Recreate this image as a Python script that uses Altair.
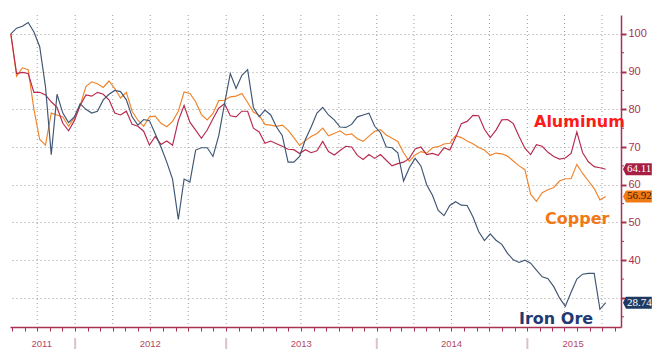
import altair as alt
import pandas as pd

START = "2011-07-29"   # first observation, then one point every two weeks

iron_ore = [100, 101.5, 102, 103, 100.5, 96.6, 86, 68, 84, 79,
            76.5, 78, 81.5, 80, 79, 79.5, 82.5, 84, 85, 84.7,
            82.5, 78, 75.8, 77.3, 77, 73.5, 70, 66, 61.5, 50.8,
            61.5, 60.7, 69.2, 69.8, 69.8, 67.5, 73, 81.5, 89.5, 85.5,
            89, 90.5, 80.5, 78, 79.8, 78.5, 75.3, 73, 66, 66,
            67.5, 72, 75.3, 79, 80.5, 78.5, 77.2, 75.3, 75.2, 76,
            78, 78.5, 79, 75.5, 73.8, 70, 69.8, 68.5, 61, 64.5,
            67, 65, 60, 57.2, 53.2, 51.8, 54.5, 55.5, 54.6, 54.5,
            51.5, 47.6, 45.2, 47, 45.3, 44.2, 41.8, 40.1, 39.4, 40,
            39.2, 37.4, 35.6, 35.1, 33, 30, 27.8, 31.5, 35, 36.3,
            36.5, 36.5, 27, 28.74]

aluminum = [100, 89.5, 89.8, 89.5, 84.5, 84.5, 83.8, 82, 80.5, 76.3,
            74.3, 77, 81, 83.8, 83.5, 84.5, 84, 82.5, 79, 78.5,
            79.5, 76, 75.5, 74.2, 70.5, 72.8, 70.7, 71.6, 70.5, 77,
            81, 76.6, 74.5, 72.3, 74.5, 77.5, 80.3, 81.5, 78.3, 78,
            79.5, 79.5, 75, 74, 71, 71.6, 70.9, 70.2, 69.4, 69.3,
            68.3, 69.3, 68.5, 69, 71.5, 68.8, 67.9, 69.1, 70.2, 70,
            67.8, 66.7, 68, 67, 68, 66.5, 65, 65.6, 66, 67,
            69.5, 70, 68, 68.3, 67.8, 69.8, 69.2, 72.5, 76.2, 76.8,
            78.4, 78.3, 74.7, 72.5, 74.5, 77.2, 77.3, 76.2, 72.8, 69.7,
            68, 70.6, 70.2, 68.6, 67.5, 66.8, 67.1, 68.3, 74, 68.5,
            66.1, 64.8, 64.5, 64.11]

copper = [100, 88.8, 91, 90.5, 80, 72, 70.5, 79, 78.5, 78,
          75.5, 77.8, 81, 86, 87.3, 86.8, 85.8, 87.5, 85.5, 83,
          84.5, 79.5, 77.1, 75.5, 78, 78.2, 76.3, 75.4, 76.8, 79.5,
          84.6, 84.2, 82, 78.6, 77.2, 78.9, 82.3, 82.4, 83.3, 83.5,
          84.2, 81.8, 79.3, 78.4, 76, 75.8, 75.5, 75.8, 74.5, 72.5,
          70.4, 71.7, 72.8, 73.6, 75, 73, 73.6, 74.3, 73.2, 73.5,
          72.2, 71.5, 72.9, 74.2, 74.6, 73.2, 72.3, 71.5, 68.5, 66.2,
          67.9, 68.8, 68.4, 69.8, 70.1, 70.8, 71, 73, 72.5, 71.6,
          70.9, 69.9, 69.2, 67.8, 68.4, 68.2, 67.6, 66.3, 65, 64,
          57.5, 55.6, 57.9, 58.7, 59.3, 61, 61.6, 61.6, 65.4, 63,
          61, 59, 56, 56.92]

series_names = ["Copper", "Aluminum", "Iron Ore"]
line_colors = ["#f0832a", "#b8294e", "#3e5573"]
last_labels = ["56.92", "64.11", "28.74"]
last_values = [56.92, 64.11, 28.74]
box_fill = ["#f07a14", "#a61f43", "#1f3a62"]
box_text = ["#3a1a00", "#ffffff", "#ffffff"]

y_ticks = [30, 40, 50, 60, 70, 80, 90, 100]
y_minor = [25, 35, 45, 55, 65, 75, 85, 95]

quarter_dates = ["2011-10-01", "2012-01-01", "2012-04-01", "2012-07-01", "2012-10-01",
                 "2013-01-01", "2013-04-01", "2013-07-01", "2013-10-01",
                 "2014-01-01", "2014-04-01", "2014-07-01", "2014-10-01",
                 "2015-01-01", "2015-04-01", "2015-07-01"]
year_names = ["2011", "2012", "2013", "2014", "2015"]
year_label_dates = ["2011-10-12", "2012-07-01", "2013-07-02", "2014-07-01", "2015-04-22"]
year_starts = ["2012-01-01", "2013-01-01", "2014-01-01", "2015-01-01"]

W, H = 611, 312
AX = "#a8324f"

dates = pd.date_range(START, periods=len(iron_ore), freq="14D")
series_values = {"Iron Ore": iron_ore, "Aluminum": aluminum, "Copper": copper}
rows = []
for name in series_names:
    for d, v in zip(dates, series_values[name]):
        rows.append({"date": d, "series": name, "value": v})
df = pd.DataFrame(rows)

xscale = alt.Scale(domain=[alt.DateTime(year=2011, month=7, date=27),
                           alt.DateTime(year=2015, month=8, date=16)])
yscale = alt.Scale(domain=[22.3, 105], nice=False, zero=False)

q_df = pd.DataFrame({"date": pd.to_datetime(quarter_dates)})
grid_v = alt.Chart(q_df).mark_rule(color="#9c9c9c", strokeDash=[1, 3], strokeWidth=1).encode(
    x=alt.X("date:T", scale=xscale, axis=None)
)

lines = alt.Chart(df).mark_line(strokeWidth=1.15).encode(
    x=alt.X("date:T", scale=xscale,
            axis=alt.Axis(title=None, labels=False, grid=False, domainColor=AX,
                          domainWidth=1.5, tickColor=AX, tickSize=4,
                          tickCount=alt.TimeIntervalStep(interval="month", step=1))),
    y=alt.Y("value:Q", scale=yscale,
            axis=alt.Axis(orient="right", values=y_ticks, title=None, grid=True,
                          gridDash=[1, 3], gridColor="#9c9c9c", domainColor=AX,
                          domainWidth=1.5, tickColor=AX, tickSize=5, tickWidth=2,
                          labelColor=AX, labelFont="Liberation Sans", labelFontSize=11,
                          labelPadding=2,
                          labelExpr="datum.value == 30 ? '' : datum.label")),
    color=alt.Color("series:N", scale=alt.Scale(domain=series_names, range=line_colors),
                    legend=None),
    order=alt.Order("date:T"),
)

minor_df = pd.DataFrame({"v": y_minor})
minor = alt.Chart(minor_df).mark_rule(color=AX, strokeWidth=1).encode(
    y=alt.Y("v:Q", scale=yscale, axis=None),
    x=alt.value(W),
    x2=alt.value(W + 3),
)

box_df = pd.DataFrame({"v": last_values, "label": last_labels,
                       "fill": box_fill, "tc": box_text})
box_path = "M -0.5 0 L 0 -1 L 4.3 -1 L 4.3 1 L 0 1 Z"
boxes = alt.Chart(box_df).mark_point(shape=box_path, size=144, filled=True,
                                     opacity=1, strokeWidth=0).encode(
    x=alt.value(W + 5),
    y=alt.Y("v:Q", scale=yscale, axis=None),
    color=alt.Color("fill:N", scale=None),
)
box_text_layer = alt.Chart(box_df).mark_text(align="left", baseline="middle",
                                             font="Liberation Serif", fontSize=11).encode(
    x=alt.value(W + 6),
    y=alt.Y("v:Q", scale=yscale, axis=None),
    text="label:N",
    color=alt.Color("tc:N", scale=None),
)

ylab_df = pd.DataFrame({"date": pd.to_datetime(year_label_dates), "label": year_names})
year_labels = alt.Chart(ylab_df).mark_text(font="Liberation Sans", fontSize=9.5,
                                           color="#b04a66", baseline="middle").encode(
    x=alt.X("date:T", scale=xscale, axis=None),
    y=alt.value(H + 17),
    text="label:N",
)
ysep_df = pd.DataFrame({"date": pd.to_datetime(year_starts)})
year_seps = alt.Chart(ysep_df).mark_rule(color="#dcc0ca", strokeWidth=2).encode(
    x=alt.X("date:T", scale=xscale, axis=None),
    y=alt.value(H + 11),
    y2=alt.value(H + 22),
)

def annot(text, color, px, py):
    return alt.Chart(pd.DataFrame({"t": [text]})).mark_text(
        align="left", baseline="middle", font="DejaVu Sans", fontWeight="bold",
        fontSize=16, color=color).encode(x=alt.value(px), y=alt.value(py), text="t:N")

chart = alt.layer(
    grid_v, lines, minor, boxes, box_text_layer, year_labels, year_seps,
    annot("Aluminum", "#ff1a1a", 524, 107),
    annot("Copper", "#f07818", 535, 204),
    annot("Iron Ore", "#1f3b73", 509, 304),
).resolve_axis(x="independent", y="independent").properties(
    width=W, height=H,
    autosize=alt.AutoSizeParams(type="none"),
    padding={"left": 2, "top": 7, "right": 32, "bottom": 27},
    background="white",
).configure_view(stroke=None)

chart.save("out.html", embed_options={"renderer": "svg", "actions": False})
